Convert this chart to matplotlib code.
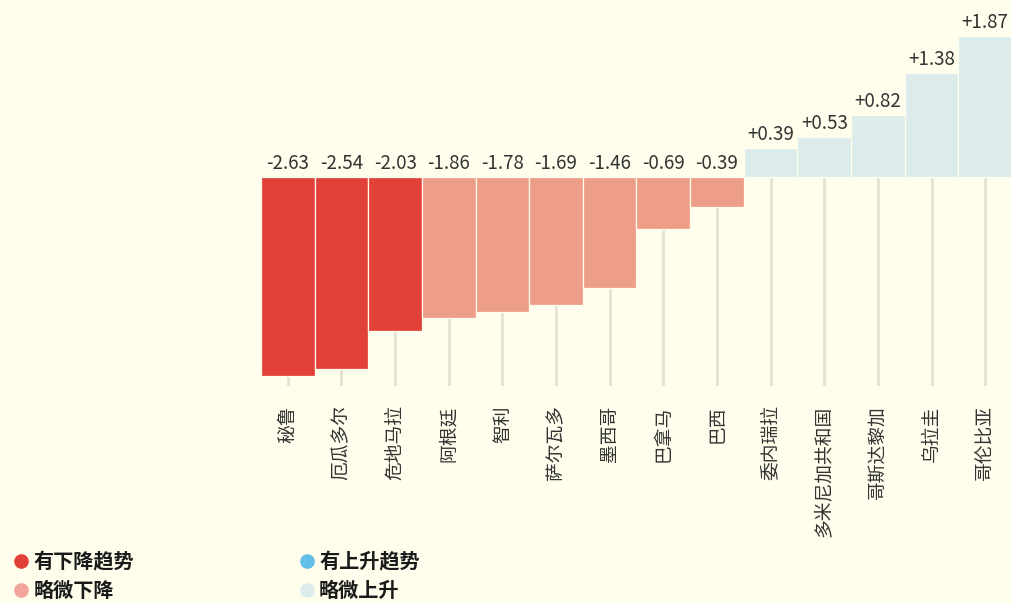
import matplotlib.pyplot as plt
from matplotlib.lines import Line2D

plt.rcParams['font.family'] = ['Noto Sans CJK SC', 'DejaVu Sans']

countries = ["秘鲁", "厄瓜多尔", "危地马拉", "阿根廷", "智利", "萨尔瓦多", "墨西哥",
             "巴拿马", "巴西", "委内瑞拉", "多米尼加共和国", "哥斯达黎加", "乌拉圭", "哥伦比亚"]
values = [-2.63, -2.54, -2.03, -1.86, -1.78, -1.69, -1.46, -0.69, -0.39,
          0.39, 0.53, 0.82, 1.38, 1.87]
labels = ["-2.63", "-2.54", "-2.03", "-1.86", "-1.78", "-1.69", "-1.46", "-0.69", "-0.39",
          "+0.39", "+0.53", "+0.82", "+1.38", "+1.87"]

legend_names = ["有下降趋势", "略微下降", "有上升趋势", "略微上升"]
legend_colors = ["#e2413a", "#f3a59c", "#63bfe6", "#dcecea"]

bg = "#fffdeb"
dark_red = "#e2413a"
salmon = "#ee9e88"
pale = "#dcecea"


def bar_color(v):
    if v <= -2:
        return dark_red
    if v < 0:
        return salmon
    return pale


fig = plt.figure(figsize=(10.12, 6.03), dpi=100)
fig.patch.set_facecolor(bg)
ax = fig.add_axes([261 / 1012, (603 - 386) / 603, (1012 - 261) / 1012, 386 / 603])
ax.set_facecolor(bg)

x = range(len(values))
ymin, ymax = -2.76, 2.34
ax.vlines(x, ymin, 0, color="#e5e2d4", linewidth=2, zorder=1)
ax.bar(x, values, width=1.0, color=[bar_color(v) for v in values],
       edgecolor=bg, linewidth=0.9, zorder=2)

for i, (v, t) in enumerate(zip(values, labels)):
    ax.annotate(t, (i, max(v, 0)), xytext=(0, 2), textcoords="offset points",
                ha="center", va="bottom", fontsize=13.5, color="#333333")

ax.set_xlim(-0.5, len(values) - 0.5)
ax.set_ylim(ymin, ymax)
ax.set_xticks(list(x))
ax.set_xticklabels(countries, rotation=90, fontsize=13.5, color="#333333", va="top")
ax.tick_params(axis="x", length=0, pad=14)
ax.set_yticks([])
for s in ax.spines.values():
    s.set_visible(False)

handles = [Line2D([], [], marker="o", linestyle="none", markersize=9.5,
                  markerfacecolor=c, markeredgecolor=c) for c in legend_colors]
leg = fig.legend(handles, legend_names, ncol=2, loc="lower left",
                 bbox_to_anchor=(-0.003, -0.027), frameon=False, handlelength=0.6,
                 handletextpad=0.3, columnspacing=8.3, labelspacing=0.4,
                 prop={"size": 14.5, "weight": "bold"})
for txt in leg.get_texts():
    txt.set_color("#1a1a1a")

fig.savefig("out.png", dpi=100, facecolor=bg)
